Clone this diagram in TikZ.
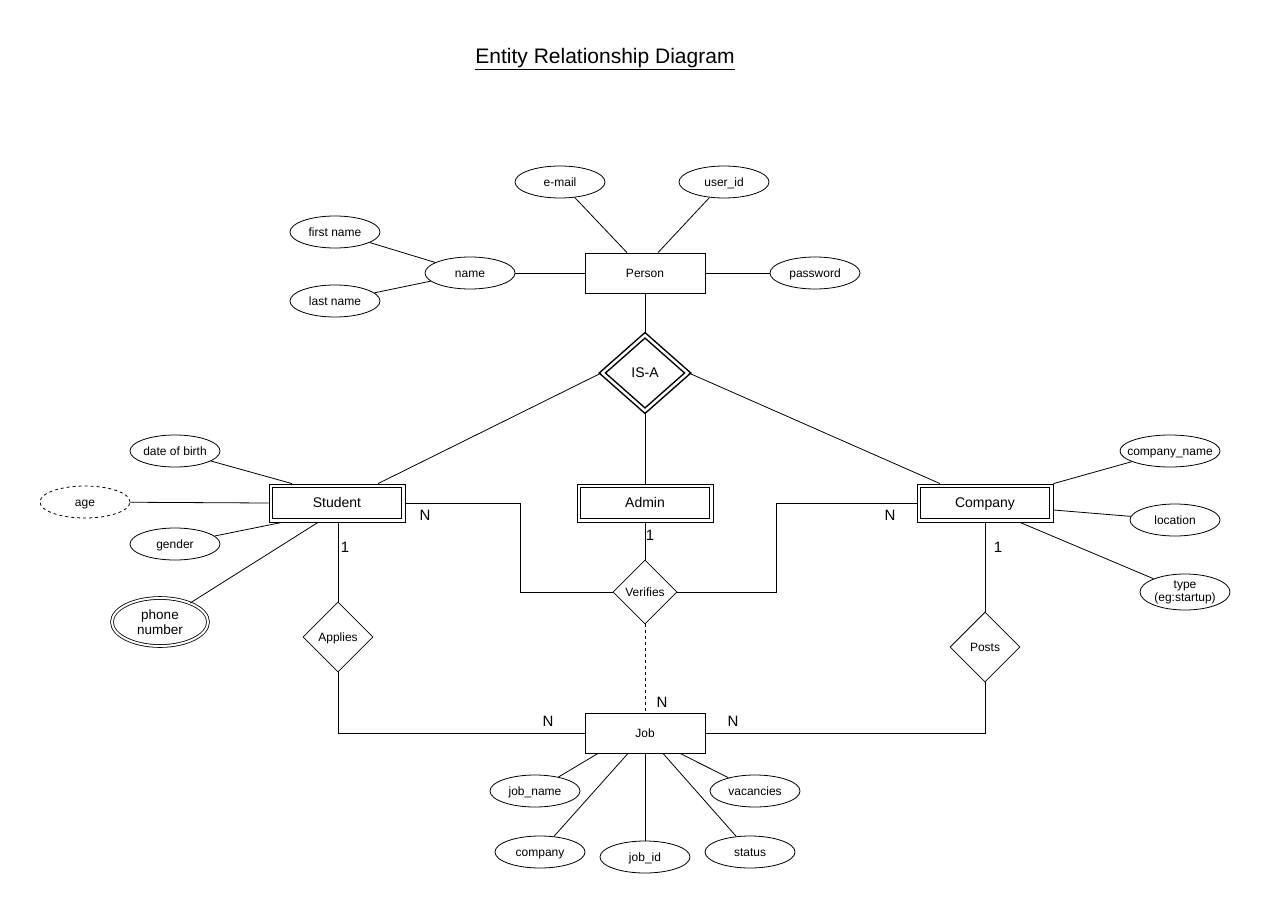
\documentclass[tikz,border=0pt]{standalone}
\usepackage{fontspec}
\setmainfont{Liberation Sans}
\usetikzlibrary{shapes.geometric, positioning}

\tikzset{
  attrbase/.style={ellipse, draw, minimum width=90, minimum height=32, inner sep=0, font=\fontsize{12}{14}\selectfont},
  attr/.style={attrbase, text height=10pt, text depth=2pt},
  entity/.style={rectangle, draw, minimum width=120, minimum height=40, text height=10pt, text depth=2pt, font=\fontsize{12}{14}\selectfont},
  weakent/.style={rectangle, draw, minimum width=136, minimum height=38, text height=11.5pt, text depth=2.5pt, font=\fontsize{14}{16}\selectfont},
  rel/.style={diamond, draw, minimum width=70, minimum height=70, inner sep=0, text height=10pt, text depth=2pt, font=\fontsize{12}{14}\selectfont},
  card/.style={inner sep=0, font=\fontsize{15}{17}\selectfont}
}

\begin{document}
\begin{tikzpicture}[x=1pt, y=-1pt, line width=0.8pt]
\useasboundingbox (0,0) rectangle (1271,918);

% Title
\node (title) at (605,59) {\fontsize{21}{24}\selectfont\underline{Entity Relationship Diagram}};

% Person and its attributes
\node[entity] (person) at (645,273) {Person};
\node[attr] (email) at (560,182) {e-mail};
\node[attr] (userid) at (724,182) {user\_id};
\node[attr] (name) at (470,273) {name};
\node[attr] (fname) at (335,232) {first name};
\node[attr] (lname) at (335,301) {last name};
\node[attr] (password) at (815,273) {password};
\draw (email) -- ([xshift=-18]person.north);
\draw (userid) -- ([xshift=13]person.north);
\draw (fname) -- (name);
\draw (lname) -- (name);
\draw (name) -- (person);
\draw (person) -- (password);

% IS-A
\node[diamond, draw, double, double distance=2.5pt, line width=1.5pt, minimum width=86, minimum height=76, inner sep=0, text height=11.5pt, text depth=2.5pt, font=\fontsize{14}{16}\selectfont] (isa) at (645,373) {IS-A};
\draw (person) -- (isa);

% Student, Admin, Company
\node[weakent] (student) at (337,503) {Student};
\node[weakent] (admin) at (645,503) {Admin};
\node[weakent] (company) at (985,503) {Company};
\foreach \e in {student,admin,company}
  \draw ([shift={(4,4)}]\e.north west) rectangle ([shift={(-4,-4)}]\e.south east);
\draw (isa.west) -- ([xshift=41]student.north);
\draw (isa.south) -- (admin.north);
\draw (isa.east) -- ([xshift=-45]company.north);

% Student attributes
\node[attr] (dob) at (175,451) {date of birth};
\node[attr, dashed] (age) at (85,502) {age};
\node[attr] (gender) at (175,544) {gender};
\node[attrbase, double, double distance=2pt, minimum width=96, minimum height=48, align=center, font=\fontsize{13.5}{15}\selectfont] (phone) at (160,622) {phone\\number};
\draw (dob) -- ([xshift=-45]student.north);
\draw (age) -- (student.west);
\draw (gender) -- ([xshift=-55]student.south);
\draw (phone) -- ([xshift=-19]student.south);

% Company attributes
\node[attr, minimum width=100, inner xsep=-8pt] (cname) at (1170,451) {company\_name};
\node[attr] (location) at (1175,520) {location};
\node[attrbase, minimum height=36, align=center, font=\fontsize{12}{13}\selectfont] (ctype) at (1185,592) {type\\(eg:startup)};
\draw (cname) -- (company.north east);
\draw (location) -- ([yshift=-7]company.east);
\draw (ctype) -- ([xshift=35]company.south);

% Relationships
\node[rel] (applies) at (338,637) {Applies};
\node[rel, minimum width=64, minimum height=64] (verifies) at (645,592) {Verifies};
\node[rel] (posts) at (985,647) {Posts};

% Job and its attributes
\node[entity] (job) at (645,733) {Job};
\node[attr] (jname) at (535,791) {job\_name};
\node[attr] (jcompany) at (540,852) {company};
\node[attr] (jid) at (645,857) {job\_id};
\node[attr] (status) at (750,852) {status};
\node[attr] (vacancies) at (755,791) {vacancies};
\draw (jname) -- ([xshift=-47]job.south);
\draw (jcompany) -- ([xshift=-17]job.south);
\draw (jid) -- (job.south);
\draw (status) -- ([xshift=18]job.south);
\draw (vacancies) -- ([xshift=35]job.south);

% Connections
\draw ([xshift=1]student.south) -- (applies.north);
\draw (applies.south) |- (job.west);
\draw (student.east) -- ++(115,0) |- (verifies.west);
\draw (admin.south) -- (verifies.north);
\draw (company.west) -- ++(-140,0) |- (verifies.east);
\draw[dashed] (verifies.south) -- (job.north);
\draw (company.south) -- (posts.north);
\draw (posts.south) |- (job.east);

% Cardinalities
\node[card] (cStuA) at (345,547) {1};
\node[card] (cJobA) at (548,721) {N};
\node[card] (cStuV) at (425,515) {N};
\node[card] (cAdmV) at (650,535) {1};
\node[card] (cComV) at (890,515) {N};
\node[card] (cJobV) at (662,702) {N};
\node[card] (cComP) at (998,547) {1};
\node[card] (cJobP) at (733,721) {N};
\end{tikzpicture}
\end{document}
